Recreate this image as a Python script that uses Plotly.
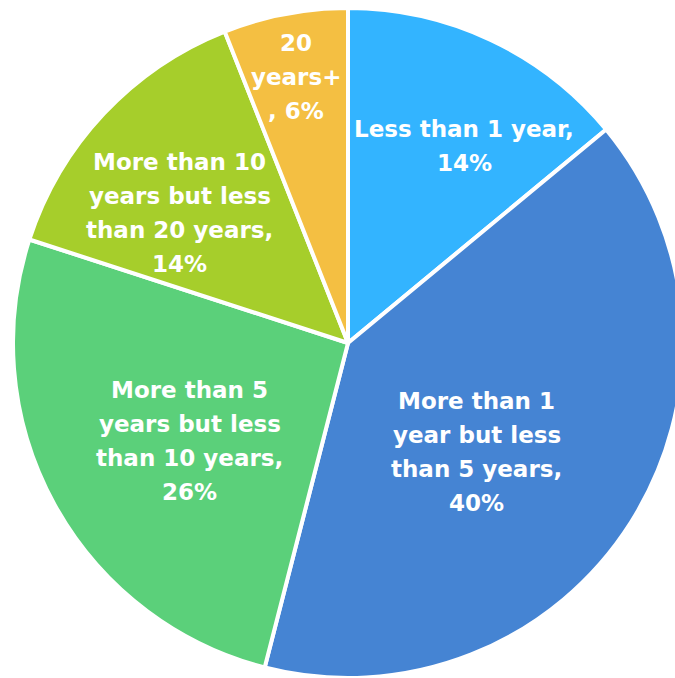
import math
import plotly.graph_objects as go

# ---- data ----
categories = [
    "Less than 1 year",
    "More than 1 year but less than 5 years",
    "More than 5 years but less than 10 years",
    "More than 10 years but less than 20 years",
    "20 years+",
]
values = [14, 40, 26, 14, 6]
display_labels = [
    "Less than 1 year,",
    "More than 1<br>year but less<br>than 5 years,",
    "More than 5<br>years but less<br>than 10 years,",
    "More than 10<br>years but less<br>than 20 years,",
    "20<br>years+",
]
colors = ["#33B4FF", "#4584D3", "#5BD07A", "#A6CE2B", "#F4BF42"]

# ---- label placement tweaks (style) ----
radial_frac = [0.683, 0.503, 0.555, 0.634, 0.809]
angle_offset = [5.3, 7.7, -3.0, -5.5, -0.3]
line_pitch = 34

W, H = 700, 678
cx, cy, R = 348, 343, 335

fig = go.Figure(go.Pie(
    labels=categories,
    values=values,
    sort=False,
    direction="clockwise",
    rotation=0,
    marker=dict(colors=colors, line=dict(color="white", width=4)),
    textinfo="none",
    hoverinfo="skip",
    showlegend=False,
    domain=dict(x=[(cx - R) / W, (cx + R) / W], y=[(H - (cy + R)) / H, (H - (cy - R)) / H]),
))

total = sum(values)
cum = 0
annotations = []
for i, v in enumerate(values):
    mid = (cum + v / 2) / total * 360 + angle_offset[i]
    cum += v
    r = R * radial_frac[i]
    px = cx + r * math.sin(math.radians(mid))
    py = cy - r * math.cos(math.radians(mid))
    pct = round(v / total * 100)
    lines = display_labels[i].split("<br>")
    if i == 4:
        lines.append(f", {pct}%")
    else:
        lines.append(f"{pct}%")
    n = len(lines)
    for k, line in enumerate(lines):
        ly = py + (k - (n - 1) / 2) * line_pitch
        annotations.append(dict(
            x=px / W, y=1 - ly / H, xref="paper", yref="paper",
            text=line, showarrow=False, xanchor="center", yanchor="middle",
            font=dict(family="DejaVu Sans", size=23, color="white", weight="bold"),
            align="center",
        ))

fig.update_layout(
    width=W, height=H,
    margin=dict(l=0, r=0, t=0, b=0),
    paper_bgcolor="white", plot_bgcolor="white",
    annotations=annotations,
)

fig.write_html(
    "out.html",
    config={"displayModeBar": False},
    post_script="document.documentElement.style.overflow='hidden';document.body.style.overflow='hidden';",
)
